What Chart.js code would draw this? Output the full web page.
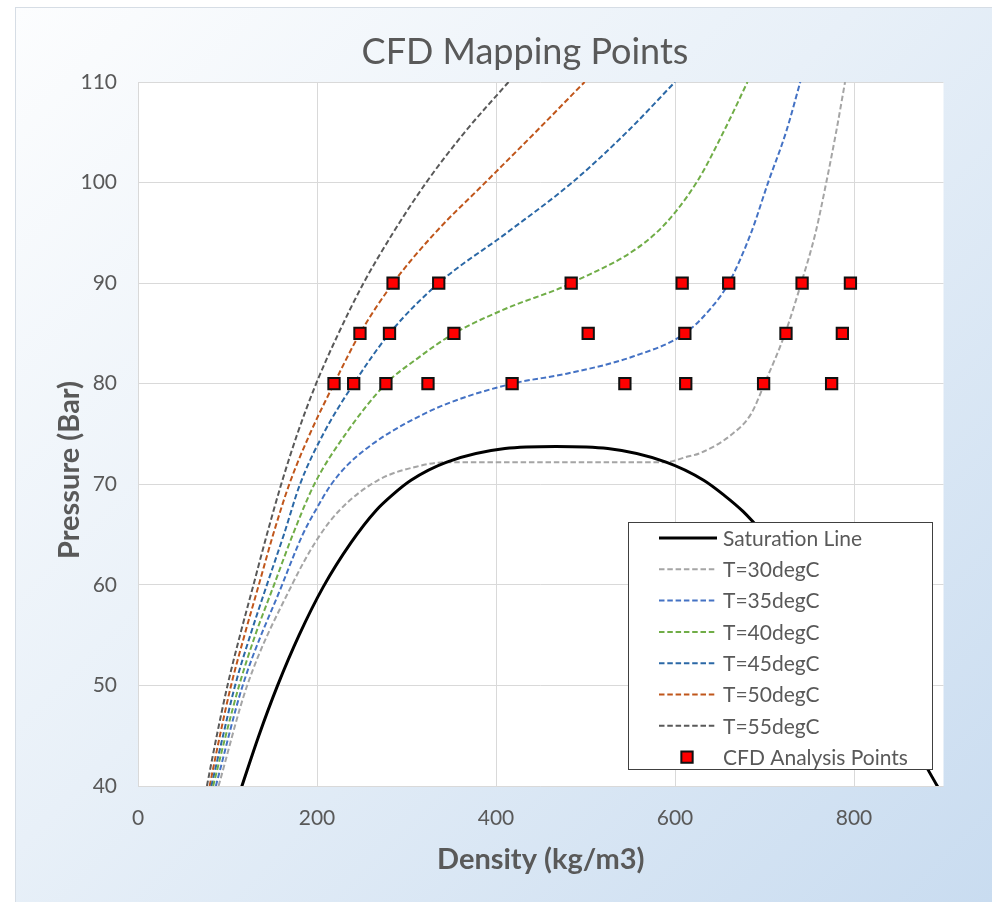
<!DOCTYPE html>
<html>
<head>
<meta charset="utf-8">
<script src="https://cdn.jsdelivr.net/npm/chart.js@4.4.0/dist/chart.umd.min.js"></script>
<style>
  html, body { margin: 0; padding: 0; background: #ffffff; }
  #frame {
    position: absolute; left: 16px; top: 8px; width: 976px; height: 894px;
    background: linear-gradient(135deg, #fcfdfe 0%, #e8f0f8 45%, #c9dcf0 100%);
    outline: 1px solid #d6dde5;
  }
  #frame canvas { position: absolute; left: 0; top: 0; }
</style>
</head>
<body>
<div id="frame"><canvas id="chart" width="976" height="894"></canvas></div>
<script>
// Saturation dome of CO2 (density kg/m3 vs pressure bar)
const satDensity  = [115, 135, 156, 180, 207, 238, 266, 285, 305, 345, 410, 467, 525, 590, 632, 655, 676, 707, 750, 773, 821, 861, 895, 927];
const satPressure = [39.7, 45.0, 50.0, 55.0, 59.8, 64.2, 67.4, 69.0, 70.4, 72.2, 73.55, 73.75, 73.55, 72.2, 70.4, 68.9, 67.3, 64.3, 60.0, 57.3, 50.9, 45.0, 39.7, 34.9];

// Isotherms
const t30Density  = [90, 122, 172, 200, 225, 268, 311, 345, 590, 612, 628, 664, 685, 700, 723, 741, 757, 769, 780, 790];
const t30Pressure = [40, 50, 60, 64.5, 67.4, 70.4, 71.75, 72.2, 72.2, 72.7, 73.1, 75, 77, 80, 85, 90, 95, 100, 105, 110];

const t35Density  = [87, 117, 161, 184, 199, 216, 235, 262, 298, 345, 418, 479, 553, 611, 640, 660, 685, 704, 724, 740];
const t35Pressure = [40, 50, 60, 65, 67.5, 70, 72, 74, 76, 78, 80, 81, 82.7, 85, 87.5, 90, 95, 100, 105, 110];

const t40Density  = [84, 98, 113, 131, 152, 173, 197, 232, 277, 312, 353, 412, 484, 579, 624, 654, 681];
const t40Pressure = [40, 45, 50, 55, 60, 65, 70, 75, 80, 82.5, 85, 87.5, 90, 95, 100, 105, 110];

const t45Density  = [82, 95, 108.5, 125.5, 144, 163, 181, 207, 241, 281, 336, 412, 485, 546, 600];
const t45Pressure = [40, 45, 50, 55, 60, 65, 70, 75, 80, 85, 90, 95, 100, 105, 110];

const t50Density  = [80, 91.5, 104, 119, 135, 151, 169, 192, 219, 248, 285, 332, 388, 444, 499];
const t50Pressure = [40, 45, 50, 55, 60, 65, 70, 75, 80, 85, 90, 95, 100, 105, 110];

const t55Density  = [77, 88, 100, 114, 129, 144, 160, 178, 199, 224, 252, 285, 322, 365, 414];
const t55Pressure = [40, 45, 50, 55, 60, 65, 70, 75, 80, 85, 90, 95, 100, 105, 110];

// CFD analysis points, one density list per pressure level
const cfdLevels     = [80, 85, 90];
const cfdDensity80  = [219, 241, 277, 324, 418, 544, 612, 699, 775];
const cfdDensity85  = [248, 281, 353, 503, 611, 724, 787];
const cfdDensity90  = [285, 336, 484, 608, 660, 742, 796];

// Axis ticks
const xTickStep = 200;
const yTickStep = 10;

const FONT = 'Lato, "Open Sans", sans-serif';
const TEXT = '#595959';

function pairs(xs, ys) { return xs.map((x, i) => ({ x: x, y: ys[i] })); }

const cfdPoints = []
  .concat(cfdDensity80.map(d => ({ x: d, y: cfdLevels[0] })))
  .concat(cfdDensity85.map(d => ({ x: d, y: cfdLevels[1] })))
  .concat(cfdDensity90.map(d => ({ x: d, y: cfdLevels[2] })));

const DASH = [5.5, 2.8];
function isotherm(label, xs, ys, color) {
  return {
    label: label, data: pairs(xs, ys), showLine: true, cubicInterpolationMode: 'monotone',
    borderColor: color, backgroundColor: color, borderWidth: 2, borderDash: DASH,
    pointRadius: 0, order: 2, xAxisID: 'x', yAxisID: 'y'
  };
}

// White plotting area
const plotBackground = {
  id: 'plotBackground',
  beforeDraw(chart) {
    const { ctx, chartArea: a } = chart;
    ctx.save();
    ctx.fillStyle = '#ffffff';
    ctx.fillRect(a.left, a.top, a.right - a.left, a.bottom - a.top);
    ctx.restore();
  }
};

// The pressure title sits a little below the middle of the axis:
// move the axis box while the axis is painted, then put it back for the data.
const Y_TITLE_SHIFT = 36;
const yTitleOffset = {
  id: 'yTitleOffset',
  afterLayout(chart) {
    chart.scales.y.top += Y_TITLE_SHIFT;
    chart.scales.y.bottom += Y_TITLE_SHIFT;
  },
  beforeDatasetsDraw(chart) {
    chart.scales.y.top -= Y_TITLE_SHIFT;
    chart.scales.y.bottom -= Y_TITLE_SHIFT;
  }
};

// Boxed legend placed inside the plotting area, lower right
const boxedLegend = {
  id: 'boxedLegend',
  afterDraw(chart) {
    const { ctx, chartArea: a } = chart;
    const left = a.left + 490, top = a.top + 440, w = 305, h = 248;
    const rowH = 31.3;
    ctx.save();
    ctx.fillStyle = '#ffffff';
    ctx.fillRect(left, top, w, h);
    ctx.strokeStyle = '#404040';
    ctx.lineWidth = 1;
    ctx.strokeRect(left + 0.5, top + 0.5, w - 1, h - 1);
    ctx.font = '21px ' + FONT;
    ctx.textBaseline = 'middle';
    chart.data.datasets.forEach((ds, i) => {
      const y = top + 16 + i * rowH;
      if (ds.showLine) {
        ctx.save();
        ctx.strokeStyle = ds.borderColor;
        ctx.lineWidth = ds.borderWidth;
        ctx.setLineDash(ds.borderDash || []);
        ctx.beginPath();
        ctx.moveTo(left + 31, y);
        ctx.lineTo(left + 89, y);
        ctx.stroke();
        ctx.restore();
      } else {
        ctx.save();
        ctx.fillStyle = ds.backgroundColor;
        ctx.strokeStyle = ds.borderColor;
        ctx.lineWidth = ds.borderWidth;
        Chart.helpers.drawPoint(ctx, { pointStyle: 'rect', radius: ds.pointRadius, borderWidth: ds.borderWidth }, left + 59, y);
        ctx.restore();
      }
      ctx.fillStyle = TEXT;
      ctx.fillText(ds.label, left + 95, y + 1);
    });
    ctx.restore();
  }
};

new Chart(document.getElementById('chart'), {
  type: 'scatter',
  data: {
    datasets: [
      { label: 'Saturation Line', data: pairs(satDensity, satPressure), showLine: true, cubicInterpolationMode: 'monotone',
        borderColor: '#000000', backgroundColor: '#000000', borderWidth: 3, pointRadius: 0, order: 1,
        xAxisID: 'x', yAxisID: 'y' },
      isotherm('T=30degC', t30Density, t30Pressure, '#a5a5a5'),
      isotherm('T=35degC', t35Density, t35Pressure, '#4472c4'),
      isotherm('T=40degC', t40Density, t40Pressure, '#70ad47'),
      isotherm('T=45degC', t45Density, t45Pressure, '#2b68a6'),
      isotherm('T=50degC', t50Density, t50Pressure, '#c0561b'),
      isotherm('T=55degC', t55Density, t55Pressure, '#595959'),
      { label: 'CFD Analysis Points', data: cfdPoints, showLine: false,
        pointStyle: 'rect', pointRadius: 8, pointHoverRadius: 8,
        backgroundColor: '#ff0000', borderColor: '#111111', borderWidth: 2, order: 0,
        xAxisID: 'x', yAxisID: 'y' }
    ]
  },
  options: {
    responsive: false,
    animation: false,
    events: [],
    devicePixelRatio: 1,
    layout: { padding: { left: 42, right: 0, top: 0, bottom: 0 } },
    plugins: {
      legend: { display: false },
      tooltip: { enabled: false },
      title: {
        display: true, text: 'CFD Mapping Points', color: TEXT,
        font: { family: FONT, size: 36, weight: 'normal' },
        padding: { top: 22.4, bottom: 8.4 }
      }
    },
    scales: {
      x: {
        type: 'linear', min: 0, max: 900,
        ticks: { stepSize: xTickStep, color: TEXT, font: { family: FONT, size: 21 }, padding: 20 },
        grid: { color: '#d9d9d9', drawTicks: false },
        border: { display: false },
        title: { display: true, text: 'Density (kg/m3)', color: TEXT,
                 font: { family: FONT, size: 29, weight: 'bold' }, padding: { top: 0, bottom: 24.8 } },
        afterBuildTicks(s) { s.ticks = s.ticks.filter(t => t.value % xTickStep === 0); },
        afterFit(s) { s.height = 116; }
      },
      y: {
        type: 'linear', min: 40, max: 110,
        ticks: { stepSize: yTickStep, color: TEXT, font: { family: FONT, size: 21 }, padding: 21 },
        grid: { color: '#d9d9d9', drawTicks: false },
        border: { display: false },
        title: { display: true, text: 'Pressure (Bar)', color: TEXT,
                 font: { family: FONT, size: 29, weight: 'bold' }, padding: { top: -5.4, bottom: 0 } },
        afterFit(s) { s.width = 80; }
      },
      // empty margin to the right of the plotting area
      yMargin: {
        type: 'linear', position: 'right', min: 0, max: 1,
        grid: { display: false, drawTicks: false },
        border: { display: false },
        ticks: { display: false },
        afterFit(s) { s.width = 48.5; }
      }
    }
  },
  plugins: [plotBackground, yTitleOffset, boxedLegend]
});
</script>
</body>
</html>
